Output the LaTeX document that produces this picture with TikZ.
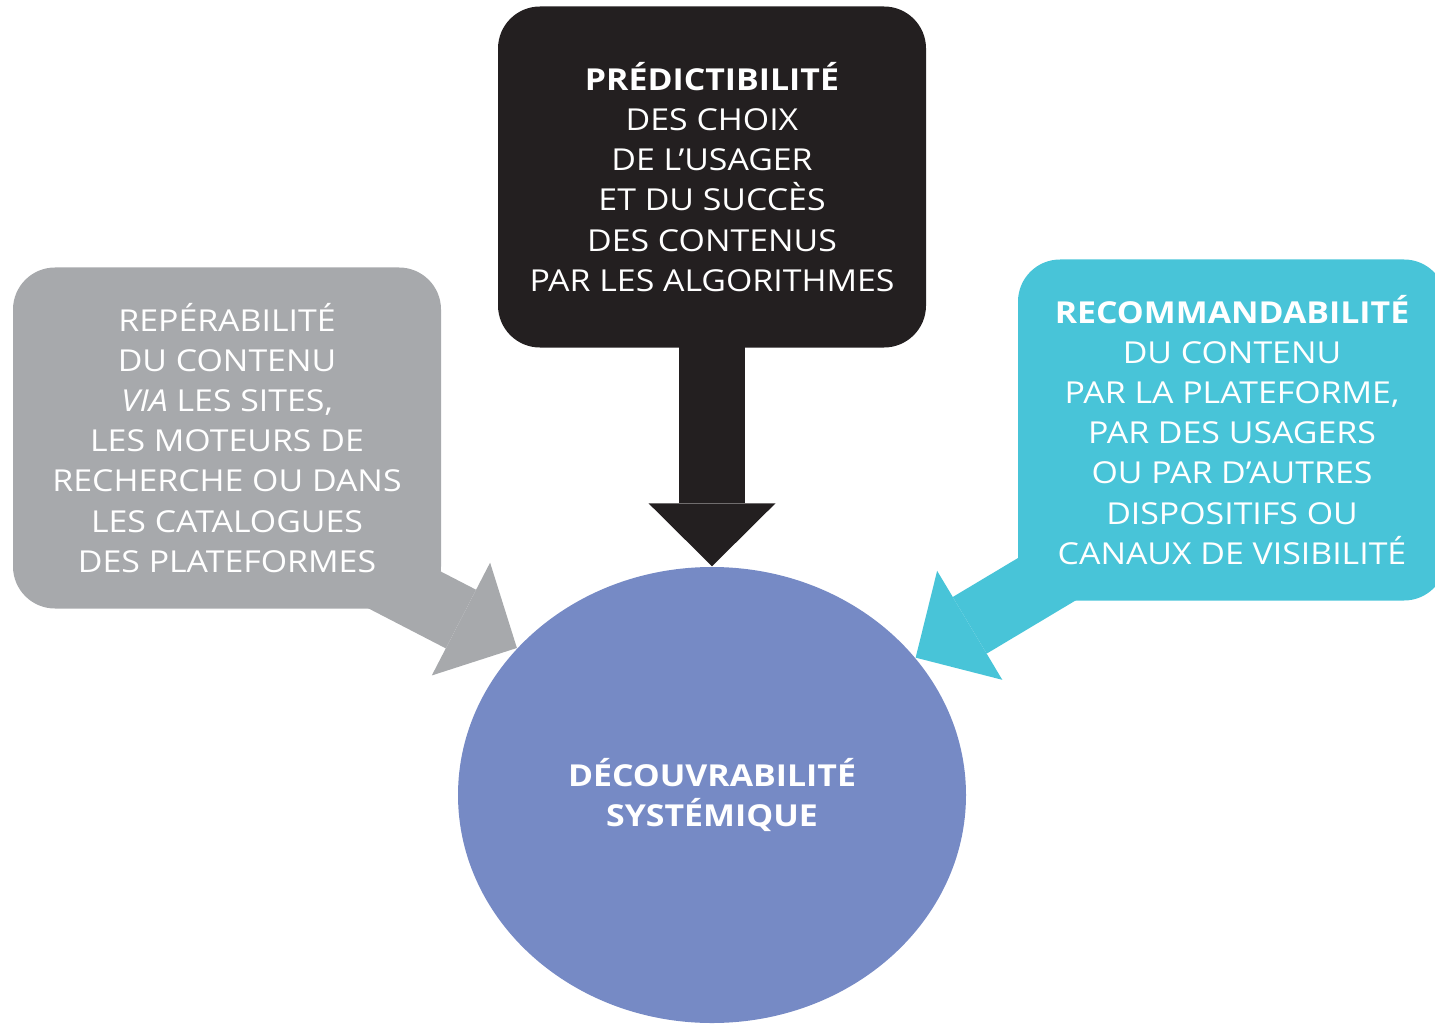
\documentclass[tikz,border=0pt]{standalone}
\usepackage{fontspec}
\setmainfont{Open Sans}[FakeStretch=1.12]
\usetikzlibrary{shapes.geometric,arrows.meta,backgrounds}

\definecolor{darkbox}{HTML}{231F20}
\definecolor{greybox}{HTML}{A7A9AC}
\definecolor{cyanbox}{HTML}{48C4D8}
\definecolor{discblue}{HTML}{768AC5}

\newcommand{\boxfont}{\fontsize{8.6pt}{11.4pt}\selectfont}

\tikzset{
  bubble/.style={rounded corners=0.42cm, minimum width=4.28cm, minimum height=3.41cm,
    inner sep=0pt, text=white, align=center, font=\boxfont},
  bigarrow/.style={line width=0.66cm,
    -{Triangle[width=1.27cm,length=0.63cm,line width=0pt]}},
}

\begin{document}
\begin{tikzpicture}
\clip (0,0) rectangle (14.35,10.24);
\node[bubble,fill=darkbox] (pred) at (7.12,8.47) {\textbf{PRÉDICTIBILITÉ}\\DES CHOIX\\DE L’USAGER\\ET DU SUCCÈS\\DES CONTENUS\\PAR LES ALGORITHMES};
\node[bubble,fill=greybox] (rep) at (2.27,5.86) {REPÉRABILITÉ\\DU CONTENU\\\textit{VIA} LES SITES,\\LES MOTEURS DE\\RECHERCHE OU DANS\\LES CATALOGUES\\DES PLATEFORMES};
\node[bubble,fill=cyanbox] (rec) at (12.32,5.94) {\textbf{RECOMMANDABILITÉ}\\DU CONTENU\\PAR LA PLATEFORME,\\PAR DES USAGERS\\OU PAR D’AUTRES\\DISPOSITIFS OU\\CANAUX DE VISIBILITÉ};
\node[ellipse,fill=discblue,minimum width=5.08cm,minimum height=4.56cm,inner sep=0pt,
  text=white,align=center,font=\boxfont\bfseries] (disc) at (7.12,2.29) {DÉCOUVRABILITÉ\\SYSTÉMIQUE};

\coordinate (reptail) at ([shift={(-1.78,0.92)}]disc.143);
\coordinate (rectail) at ([shift={(1.89,1.13)}]disc.34);

\begin{scope}[on background layer]
\draw[bigarrow,darkbox] (pred.center) -- (disc.north);
\draw[bigarrow,greybox] (reptail) -- (disc.143);
\draw[bigarrow,cyanbox] (rectail) -- (disc.34);
\end{scope}
\end{tikzpicture}
\end{document}
